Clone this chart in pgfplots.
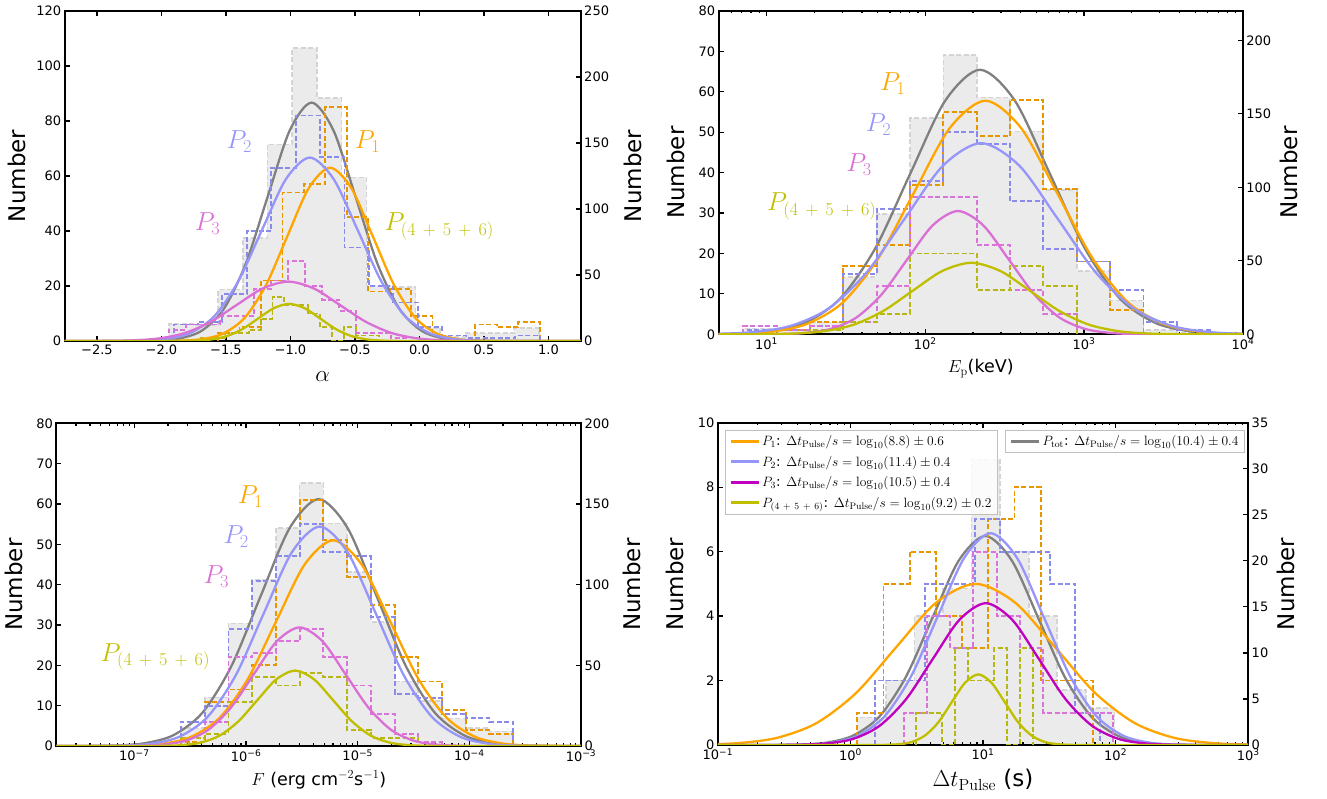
\RequirePackage{fix-cm}
\documentclass[border=0pt]{standalone}
\usepackage[no-math]{fontspec}
\setmainfont{DejaVu Sans}
\usepackage{pgfplots}
\pgfplotsset{compat=1.18}

\definecolor{cO}{RGB}{255,165,0}
\definecolor{cOh}{RGB}{232,150,0}
\definecolor{cB}{RGB}{150,150,250}
\definecolor{cBh}{RGB}{138,138,235}
\definecolor{cM}{RGB}{218,112,214}
\definecolor{cMh}{RGB}{220,115,220}
\definecolor{cMd}{RGB}{191,0,191}
\definecolor{cY}{RGB}{191,191,0}
\definecolor{cYh}{RGB}{182,182,20}
\definecolor{cG}{RGB}{128,128,128}
\definecolor{cGf}{RGB}{235,235,235}
\definecolor{cGe}{RGB}{212,212,212}
\newcommand{\pp}{\mskip7mu+\mskip7mu}
\tikzset{plab/.style={font=\fontsize{26}{30}\selectfont}}

\pgfplotsset{
  base/.style={scale only axis, anchor=south west,
    axis line style={line width=1.8pt},
    every tick/.append style={line width=1.2pt, black},
    major tick length=5pt, minor tick length=2.5pt,
    tick label style={font=\fontsize{13}{15}\selectfont},
    /pgf/number format/assume math mode=true},
  hist/.style={const plot, dash pattern=on 5pt off 2.5pt, line width=1.9pt, forget plot},
  grayhist/.style={const plot, fill=cGf, draw=cGe, dash pattern=on 5pt off 2.5pt, line width=1.6pt, forget plot},
  curve/.style={smooth, line width=2.3pt, mark=none},
  ylab/.style={every axis y label/.style={at={(axis description cs:#1,0.5)}, rotate=90, anchor=center, font=\fontsize{23}{27}\selectfont}},
  xlab/.style 2 args={every axis x label/.style={at={(axis description cs:0.5,#1)}, anchor=center, font=\fontsize{#2}{#2}\selectfont}},
  leg/.style={legend style={font=\fontsize{13.5}{16}\selectfont, draw=black!25, fill=white, fill opacity=0.8, text opacity=1,
    inner xsep=4pt, inner ysep=3pt, row sep=5pt},
    legend cell align=left,
    legend image code/.code={\draw[##1, line width=3pt] (0pt,0pt) -- (28pt,0pt);}},
}

\begin{document}
\begin{tikzpicture}
\path (0,0) rectangle (1327pt,799pt);

%================ Panel 1 : alpha ================
\begin{axis}[base, at={(64.7pt,458pt)}, width=516pt, height=330pt,
  xmin=-2.75, xmax=1.25, ymin=0, ymax=250, xtick=\empty,
  ytick={0,50,...,250}, ytick pos=right, yticklabel pos=right,
  ylabel={Number}, ylab=1.1014]
\addplot[grayhist] table[row sep=\\]{
-1.943 0\\ -1.943 13\\ -1.752 12\\ -1.560 39\\ -1.369 78\\ -1.178 149\\ -0.986 222\\ -0.795 184\\ -0.604 124\\ -0.412 42\\ -0.221 41\\ -0.030 10\\ 0.161 3\\ 0.353 6\\ 0.544 6\\ 0.735 10\\ 0.927 10\\ 0.927 0\\};
\addplot[curve, cG] table[row sep=\\]{
-2.75 0\\ -2.196 0.06\\ -2.026 0.39\\ -1.856 2.0\\ -1.686 7.9\\ -1.516 24.4\\ -1.346 58.6\\ -1.176 109.5\\ -1.006 159.4\\ -0.836 180.6\\ -0.666 159.4\\ -0.496 109.5\\ -0.326 58.6\\ -0.156 24.4\\ 0.014 7.9\\ 0.184 2.0\\ 0.354 0.39\\ 0.524 0.06\\ 1.25 0\\};
\end{axis}

\begin{axis}[base, at={(64.7pt,458pt)}, width=516pt, height=330pt,
  xmin=-2.75, xmax=1.25, ymin=0, ymax=120,
  ytick={0,20,...,120}, ytick pos=left,
  xtick={-2.5,-2,-1.5,-1,-0.5,0,0.5,1},
  xticklabels={−2.5,−2.0,−1.5,−1.0,−0.5,0.0,0.5,1.0},
  xlabel={$\alpha$}, xlab={-0.108}{23},
  ylabel={Number}, ylab=-0.0934]
\addplot[hist, cOh] table[row sep=\\]{
-1.561 0\\ -1.561 3\\ -1.395 5\\ -1.229 22\\ -1.062 54\\ -0.896 57\\ -0.730 85\\ -0.564 45\\ -0.398 18\\ -0.231 19\\ -0.065 9\\ 0.101 2\\ 0.267 0\\ 0.433 6\\ 0.600 5\\ 0.766 7\\ 0.932 7\\ 0.932 0\\};
\addplot[hist, cBh] table[row sep=\\]{
-1.906 0\\ -1.906 6\\ -1.717 7\\ -1.528 17\\ -1.338 40\\ -1.149 63\\ -0.960 82\\ -0.771 67\\ -0.581 34\\ -0.392 20\\ -0.203 14\\ -0.014 5\\ 0.176 2\\ 0.365 1\\ 0.554 1\\ 0.743 2\\ 0.933 2\\ 0.933 0\\};
\addplot[hist, cMh] table[row sep=\\]{
-1.943 0\\ -1.943 4\\ -1.811 6\\ -1.679 6\\ -1.546 9\\ -1.414 9\\ -1.282 19\\ -1.150 22\\ -1.018 29\\ -0.885 20\\ -0.753 15\\ -0.621 11\\ -0.489 3\\ -0.357 3\\ -0.224 1\\ -0.092 1\\ -0.092 0\\};
\addplot[hist, cYh] table[row sep=\\]{
-1.691 0\\ -1.691 1\\ -1.599 1\\ -1.507 3\\ -1.415 3\\ -1.323 4\\ -1.231 8\\ -1.139 16\\ -1.047 13\\ -0.955 13\\ -0.863 10\\ -0.771 5\\ -0.679 0\\ -0.587 5\\ -0.495 2\\ -0.403 2\\ -0.311 2\\ -0.311 0\\};
\addplot[curve, cO] table[row sep=\\]{
-2.75 0\\ -2.013 0.02\\ -1.848 0.14\\ -1.683 0.70\\ -1.518 2.77\\ -1.353 8.52\\ -1.188 20.46\\ -1.023 38.21\\ -0.858 55.6\\ -0.693 63\\ -0.528 55.6\\ -0.363 38.21\\ -0.198 20.46\\ -0.033 8.52\\ 0.132 2.77\\ 0.297 0.70\\ 0.462 0.14\\ 0.627 0.02\\ 1.25 0\\};
\addplot[curve, cB] table[row sep=\\]{
-2.75 0\\ -2.33 0.02\\ -2.145 0.15\\ -1.96 0.74\\ -1.775 2.93\\ -1.59 9.02\\ -1.405 21.66\\ -1.22 40.45\\ -1.035 58.86\\ -0.85 66.7\\ -0.665 58.86\\ -0.48 40.45\\ -0.295 21.66\\ -0.11 9.02\\ 0.075 2.93\\ 0.26 0.74\\ 0.445 0.15\\ 0.63 0.02\\ 1.25 0\\};
\addplot[curve, cM] table[row sep=\\]{
-2.75 0\\ -2.617 0.007\\ -2.417 0.05\\ -2.217 0.24\\ -2.017 0.95\\ -1.817 2.92\\ -1.617 7.01\\ -1.417 13.1\\ -1.217 19.06\\ -1.017 21.6\\ -0.817 19.06\\ -0.617 13.1\\ -0.417 7.01\\ -0.217 2.92\\ -0.017 0.95\\ 0.183 0.24\\ 0.383 0.05\\ 0.583 0.007\\ 1.25 0\\};
\addplot[curve, cY] table[row sep=\\]{
-2.75 0\\ -1.97 0.005\\ -1.85 0.03\\ -1.73 0.15\\ -1.61 0.59\\ -1.49 1.83\\ -1.37 4.38\\ -1.25 8.19\\ -1.13 11.91\\ -1.01 13.5\\ -0.89 11.91\\ -0.77 8.19\\ -0.65 4.38\\ -0.53 1.83\\ -0.41 0.59\\ -0.29 0.15\\ -0.17 0.03\\ -0.05 0.005\\ 1.25 0\\};
\node[plab, text=cO] at (axis cs:-0.402,72.5) {$P_1$};
\node[plab, text=cB] at (axis cs:-1.397,72.5) {$P_2$};
\node[plab, text=cM] at (axis cs:-1.643,42.8) {$P_3$};
\node[plab, text=cY] at (axis cs:0.153,41.6) {$P_{(4\pp5\pp6)}$};
\end{axis}

%================ Panel 2 : Ep ================
\begin{axis}[base, at={(718.6pt,464.7pt)}, width=524.3pt, height=323.3pt,
  xmode=log, xmin=5, xmax=1e4, ymin=0, ymax=220, xtick=\empty, xminorticks=false,
  ytick={0,50,...,200}, ytick pos=right, yticklabel pos=right,
  ylabel={Number}, ylab=1.087]
\addplot[grayhist] table[row sep=\\, y index=1, x expr=10^(\thisrowno{0})]{
0.854 0\\ 0.854 4\\ 1.064 3\\ 1.274 8\\ 1.484 39\\ 1.694 82\\ 1.904 147\\ 2.114 190\\ 2.324 161\\ 2.534 138\\ 2.744 98\\ 2.954 43\\ 3.164 23\\ 3.374 3\\ 3.584 1\\ 3.794 1\\ 3.794 0\\};
\addplot[curve, cG] table[row sep=\\, y index=1, x expr=10^(\thisrowno{0})]{
0.585 0.06\\ 0.805 0.39\\ 1.025 2.0\\ 1.245 7.91\\ 1.465 24.35\\ 1.685 58.45\\ 1.905 109.17\\ 2.125 158.85\\ 2.345 180\\ 2.565 158.85\\ 2.785 109.17\\ 3.005 58.45\\ 3.225 24.35\\ 3.445 7.91\\ 3.665 2.0\\ 3.885 0.39\\ 4.105 0.06\\};
\end{axis}

\begin{axis}[base, at={(718.6pt,464.7pt)}, width=524.3pt, height=323.3pt,
  xmode=log, xmin=5, xmax=1e4, ymin=0, ymax=80,
  ytick={0,10,...,80}, ytick pos=left,
  xtick={10,100,1000,10000},
  minor xtick={5,6,7,8,9,20,30,40,50,60,70,80,90,200,300,400,500,600,700,800,900,2000,3000,4000,5000,6000,7000,8000,9000},
  xticklabels={10\textsuperscript{1},10\textsuperscript{2},10\textsuperscript{3},10\textsuperscript{4}},
  xlabel={$E_{\mathrm{p}}$(keV)}, xlab={-0.105}{17.5},
  ylabel={Number}, ylab=-0.0814]
\addplot[hist, cOh] table[row sep=\\, y index=1, x expr=10^(\thisrowno{0})]{
1.064 0\\ 1.064 1\\ 1.274 3\\ 1.484 17\\ 1.694 22\\ 1.904 37\\ 2.114 55\\ 2.324 49\\ 2.534 58\\ 2.744 36\\ 2.954 18\\ 3.164 6\\ 3.374 6\\ 3.374 0\\};
\addplot[hist, cBh] table[row sep=\\, y index=1, x expr=10^(\thisrowno{0})]{
0.854 0\\ 0.854 1\\ 1.064 1\\ 1.274 2\\ 1.484 15\\ 1.694 31\\ 1.904 38\\ 2.114 50\\ 2.324 47\\ 2.534 33\\ 2.744 21\\ 2.954 18\\ 3.164 11\\ 3.374 3\\ 3.584 1\\ 3.794 1\\ 3.794 0\\};
\addplot[hist, cMh] table[row sep=\\, y index=1, x expr=10^(\thisrowno{0})]{
0.854 0\\ 0.854 2\\ 1.064 1\\ 1.274 2\\ 1.484 3\\ 1.694 12\\ 1.904 34\\ 2.114 34\\ 2.324 22\\ 2.534 11\\ 2.744 5\\ 2.954 5\\ 2.954 0\\};
\addplot[hist, cYh] table[row sep=\\, y index=1, x expr=10^(\thisrowno{0})]{
1.274 0\\ 1.274 1\\ 1.484 3\\ 1.694 5\\ 1.904 20\\ 2.114 20\\ 2.324 11\\ 2.534 17\\ 2.744 12\\ 2.954 12\\ 2.954 0\\};
\addplot[curve, cO] table[row sep=\\, y index=1, x expr=10^(\thisrowno{0})]{
0.579 0.02\\ 0.804 0.13\\ 1.029 0.64\\ 1.254 2.54\\ 1.479 7.82\\ 1.704 18.77\\ 1.929 35.06\\ 2.154 51.01\\ 2.379 57.8\\ 2.604 51.01\\ 2.829 35.06\\ 3.054 18.77\\ 3.279 7.82\\ 3.504 2.54\\ 3.729 0.64\\ 3.954 0.13\\ 4.179 0.02\\};
\addplot[curve, cB] table[row sep=\\, y index=1, x expr=10^(\thisrowno{0})]{
0.432 0.016\\ 0.672 0.10\\ 0.912 0.53\\ 1.152 2.08\\ 1.392 6.40\\ 1.632 15.36\\ 1.872 28.69\\ 2.112 41.74\\ 2.352 47.3\\ 2.592 41.74\\ 2.832 28.69\\ 3.072 15.36\\ 3.312 6.40\\ 3.552 2.08\\ 3.792 0.53\\ 4.032 0.10\\};
\addplot[curve, cM] table[row sep=\\, y index=1, x expr=10^(\thisrowno{0})]{
0.6 0\\ 0.926 0.01\\ 1.086 0.07\\ 1.246 0.34\\ 1.406 1.34\\ 1.566 4.13\\ 1.726 9.90\\ 1.886 18.50\\ 2.046 26.92\\ 2.206 30.5\\ 2.366 26.92\\ 2.526 18.50\\ 2.686 9.90\\ 2.846 4.13\\ 3.006 1.34\\ 3.166 0.34\\ 3.326 0.07\\ 3.486 0.01\\ 4.1 0\\};
\addplot[curve, cY] table[row sep=\\, y index=1, x expr=10^(\thisrowno{0})]{
0.6 0\\ 0.81 0.006\\ 0.995 0.04\\ 1.18 0.20\\ 1.365 0.78\\ 1.55 2.39\\ 1.735 5.75\\ 1.92 10.74\\ 2.105 15.62\\ 2.29 17.7\\ 2.475 15.62\\ 2.66 10.74\\ 2.845 5.75\\ 3.03 2.39\\ 3.215 0.78\\ 3.4 0.20\\ 3.585 0.04\\ 3.77 0.006\\ 4.1 0\\};
\node[plab, text=cO] at (axis cs:62.5,62.1) {$P_1$};
\node[plab, text=cB] at (axis cs:50.8,51.8) {$P_2$};
\node[plab, text=cM] at (axis cs:38.3,41.9) {$P_3$};
\node[plab, text=cY] at (axis cs:22.3,31.6) {$P_{(4\pp5\pp6)}$};
\end{axis}

%================ Panel 3 : F ================
\begin{axis}[base, at={(56.4pt,53pt)}, width=524.6pt, height=322.7pt,
  xmode=log, xmin=2e-8, xmax=1e-3, ymin=0, ymax=200, xtick=\empty, xminorticks=false,
  ytick={0,50,...,200}, ytick pos=right, yticklabel pos=right,
  ylabel={Number}, ylab=1.0976]
\addplot[grayhist] table[row sep=\\, y index=1, x expr=10^(\thisrowno{0})]{
-6.582 0\\ -6.582 11\\ -6.370 30\\ -6.157 76\\ -5.945 103\\ -5.732 135\\ -5.520 163\\ -5.308 138\\ -5.095 108\\ -4.883 77\\ -4.670 40\\ -4.458 28\\ -4.246 17\\ -4.033 11\\ -3.821 9\\ -3.608 9\\ -3.608 0\\};
\addplot[curve, cG] table[row sep=\\, y index=1, x expr=10^(\thisrowno{0})]{
-7.8 0\\ -7.43 0.05\\ -7.17 0.33\\ -6.91 1.70\\ -6.65 6.72\\ -6.39 20.7\\ -6.13 49.7\\ -5.87 92.8\\ -5.61 135.0\\ -5.35 153\\ -5.09 135.0\\ -4.83 92.8\\ -4.57 49.7\\ -4.31 20.7\\ -4.05 6.72\\ -3.79 1.70\\ -3.53 0.33\\ -3.27 0.05\\ -2.9 0\\};
\end{axis}

\begin{axis}[base, at={(56.4pt,53pt)}, width=524.6pt, height=322.7pt,
  xmode=log, xmin=2e-8, xmax=1e-3, ymin=0, ymax=80,
  ytick={0,10,...,80}, ytick pos=left,
  xtick={1e-7,1e-6,1e-5,1e-4,1e-3},
  minor xtick={2e-8,3e-8,4e-8,5e-8,6e-8,7e-8,8e-8,9e-8,2e-7,3e-7,4e-7,5e-7,6e-7,7e-7,8e-7,9e-7,2e-6,3e-6,4e-6,5e-6,6e-6,7e-6,8e-6,9e-6,2e-5,3e-5,4e-5,5e-5,6e-5,7e-5,8e-5,9e-5,2e-4,3e-4,4e-4,5e-4,6e-4,7e-4,8e-4,9e-4},
  xticklabels={10\textsuperscript{−7},10\textsuperscript{−6},10\textsuperscript{−5},10\textsuperscript{−4},10\textsuperscript{−3}},
  xlabel={$F$ (erg cm$^{-2}$s$^{-1}$)}, xlab={-0.105}{17.5},
  ylabel={Number}, ylab=-0.0814]
\addplot[hist, cOh] table[row sep=\\, y index=1, x expr=10^(\thisrowno{0})]{
-6.582 0\\ -6.582 1\\ -6.370 11\\ -6.157 14\\ -5.945 20\\ -5.732 47\\ -5.520 61\\ -5.308 51\\ -5.095 42\\ -4.883 35\\ -4.670 22\\ -4.458 16\\ -4.246 9\\ -4.033 4\\ -3.821 3\\ -3.608 3\\ -3.608 0\\};
\addplot[hist, cBh] table[row sep=\\, y index=1, x expr=10^(\thisrowno{0})]{
-6.582 0\\ -6.582 6\\ -6.370 10\\ -6.157 29\\ -5.945 41\\ -5.732 47\\ -5.520 55\\ -5.308 48\\ -5.095 47\\ -4.883 32\\ -4.670 13\\ -4.458 12\\ -4.246 8\\ -4.033 7\\ -3.821 6\\ -3.608 6\\ -3.608 0\\};
\addplot[hist, cMh] table[row sep=\\, y index=1, x expr=10^(\thisrowno{0})]{
-6.582 0\\ -6.582 2\\ -6.370 6\\ -6.157 22\\ -5.945 23\\ -5.732 26\\ -5.520 29\\ -5.308 22\\ -5.095 15\\ -4.883 8\\ -4.670 3\\ -4.458 1\\ -4.246 1\\ -4.246 0\\};
\addplot[hist, cYh] table[row sep=\\, y index=1, x expr=10^(\thisrowno{0})]{
-6.582 0\\ -6.582 2\\ -6.370 3\\ -6.157 11\\ -5.945 17\\ -5.732 15\\ -5.520 18\\ -5.308 17\\ -5.095 4\\ -4.883 2\\ -4.670 2\\ -4.458 2\\ -4.458 0\\};
\addplot[curve, cO] table[row sep=\\, y index=1, x expr=10^(\thisrowno{0})]{
-7.8 0\\ -7.26 0.017\\ -7.005 0.11\\ -6.75 0.57\\ -6.495 2.24\\ -6.24 6.90\\ -5.985 16.56\\ -5.73 30.93\\ -5.475 45.01\\ -5.22 51\\ -4.965 45.01\\ -4.71 30.93\\ -4.455 16.56\\ -4.2 6.90\\ -3.945 2.24\\ -3.69 0.57\\ -3.435 0.11\\ -3.18 0.017\\ -2.9 0\\};
\addplot[curve, cB] table[row sep=\\, y index=1, x expr=10^(\thisrowno{0})]{
-7.8 0\\ -7.34 0.018\\ -7.09 0.12\\ -6.84 0.60\\ -6.59 2.39\\ -6.34 7.36\\ -6.09 17.66\\ -5.84 32.99\\ -5.59 48.01\\ -5.34 54.4\\ -5.09 48.01\\ -4.84 32.99\\ -4.59 17.66\\ -4.34 7.36\\ -4.09 2.39\\ -3.84 0.60\\ -3.59 0.12\\ -3.34 0.018\\ -2.9 0\\};
\addplot[curve, cM] table[row sep=\\, y index=1, x expr=10^(\thisrowno{0})]{
-7.8 0\\ -7.16 0.01\\ -6.955 0.06\\ -6.75 0.33\\ -6.545 1.29\\ -6.34 3.98\\ -6.135 9.55\\ -5.93 17.83\\ -5.725 25.95\\ -5.52 29.4\\ -5.315 25.95\\ -5.11 17.83\\ -4.905 9.55\\ -4.7 3.98\\ -4.495 1.29\\ -4.29 0.33\\ -4.085 0.06\\ -3.88 0.01\\ -2.9 0\\};
\addplot[curve, cY] table[row sep=\\, y index=1, x expr=10^(\thisrowno{0})]{
-7.8 0\\ -6.92 0.006\\ -6.75 0.04\\ -6.58 0.21\\ -6.41 0.82\\ -6.24 2.53\\ -6.07 6.07\\ -5.9 11.34\\ -5.73 16.50\\ -5.56 18.7\\ -5.39 16.50\\ -5.22 11.34\\ -5.05 6.07\\ -4.88 2.53\\ -4.71 0.82\\ -4.54 0.21\\ -4.37 0.04\\ -4.2 0.006\\ -2.9 0\\};
\node[plab, text=cO] at (axis cs:1.094e-6,61.8) {$P_1$};
\node[plab, text=cB] at (axis cs:8.15e-7,51.9) {$P_2$};
\node[plab, text=cM] at (axis cs:5.42e-7,42) {$P_3$};
\node[plab, text=cY] at (axis cs:1.54e-7,22.1) {$P_{(4\pp5\pp6)}$};
\end{axis}

%================ Panel 4 : Delta t ================
\begin{axis}[base, leg, at={(717.9pt,54pt)}, width=530.3pt, height=322.3pt,
  xmode=log, xmin=0.1, xmax=1000, ymin=0, ymax=35, xtick=\empty, xminorticks=false,
  ytick={0,5,...,35}, ytick pos=right, yticklabel pos=right,
  ylabel={Number}, ylab=1.071,
  legend style={at={(axis description cs:0.9934,0.977)}, anchor=north east}]
\addplot[grayhist] table[row sep=\\, y index=1, x expr=10^(\thisrowno{0})]{
0.051 0\\ 0.051 3\\ 0.267 7\\ 0.482 14\\ 0.698 17\\ 0.913 31\\ 1.129 21\\ 1.345 14\\ 1.560 6\\ 1.776 4\\ 1.991 4\\ 1.991 0\\};
\addplot[curve, cG] table[row sep=\\, y index=1, x expr=10^(\thisrowno{0})]{
-1.1 0\\ -0.583 0.0076\\ -0.383 0.050\\ -0.183 0.25\\ 0.017 1.0\\ 0.217 3.07\\ 0.417 7.37\\ 0.617 13.77\\ 0.817 20.03\\ 1.017 22.7\\ 1.217 20.03\\ 1.417 13.77\\ 1.617 7.37\\ 1.817 3.07\\ 2.017 1.0\\ 2.217 0.25\\ 2.417 0.050\\ 2.617 0.0076\\ 3.1 0\\};
\addlegendentry{$P_{\mathrm{tot}}$: $\Delta t_{\mathrm{Pulse}}/s=\log_{10}(10.4)\pm0.4$}
\end{axis}

\begin{axis}[base, leg, at={(717.9pt,54pt)}, width=530.3pt, height=322.3pt,
  xmode=log, xmin=0.1, xmax=1000, ymin=0, ymax=10,
  ytick={0,2,...,10}, ytick pos=left,
  xtick={0.1,1,10,100,1000},
  minor xtick={0.2,0.3,0.4,0.5,0.6,0.7,0.8,0.9,2,3,4,5,6,7,8,9,20,30,40,50,60,70,80,90,200,300,400,500,600,700,800,900},
  xticklabels={10\textsuperscript{−1},10\textsuperscript{0},10\textsuperscript{1},10\textsuperscript{2},10\textsuperscript{3}},
  xlabel={$\Delta t_{\mathrm{Pulse}}$ (s)}, xlab={-0.1086}{23},
  ylabel={Number}, ylab=-0.0805,
  legend style={at={(axis description cs:0.0134,0.977)}, anchor=north west}]
\addplot[hist, cOh] table[row sep=\\, y index=1, x expr=10^(\thisrowno{0})]{
0.051 0\\ 0.051 1\\ 0.249 5\\ 0.446 6\\ 0.644 4\\ 0.842 3\\ 1.040 7\\ 1.237 8\\ 1.435 2\\ 1.633 2\\ 1.830 2\\ 1.830 0\\};
\addplot[hist, cBh] table[row sep=\\, y index=1, x expr=10^(\thisrowno{0})]{
0.186 0\\ 0.186 2\\ 0.375 2\\ 0.563 5\\ 0.752 5\\ 0.940 7\\ 1.129 6\\ 1.318 6\\ 1.506 5\\ 1.695 1\\ 1.884 1\\ 1.884 0\\};
\addplot[hist, cMh] table[row sep=\\, y index=1, x expr=10^(\thisrowno{0})]{
0.402 0\\ 0.402 1\\ 0.577 4\\ 0.752 3\\ 0.927 6\\ 1.103 4\\ 1.278 3\\ 1.453 1\\ 1.628 1\\ 1.803 1\\ 1.979 1\\ 1.979 0\\};
\addplot[hist, cYh] table[row sep=\\, y index=1, x expr=10^(\thisrowno{0})]{
0.4925 0\\ 0.4925 1\\ 0.591 1\\ 0.6895 0\\ 0.788 3\\ 0.8865 2\\ 0.985 2\\ 1.0835 3\\ 1.182 0\\ 1.2805 3\\ 1.379 3\\ 1.379 0\\};
\addplot[curve, cO] table[row sep=\\, y index=1, x expr=10^(\thisrowno{0})]{
-1.156 0.011\\ -0.856 0.056\\ -0.556 0.22\\ -0.256 0.68\\ 0.044 1.62\\ 0.344 3.03\\ 0.644 4.41\\ 0.944 5.0\\ 1.244 4.41\\ 1.544 3.03\\ 1.844 1.62\\ 2.144 0.68\\ 2.444 0.22\\ 2.744 0.056\\ 3.044 0.011\\};
\addlegendentry{$P_1$: $\Delta t_{\mathrm{Pulse}}/s=\log_{10}(8.8)\pm0.6$}
\addplot[curve, cB] table[row sep=\\, y index=1, x expr=10^(\thisrowno{0})]{
-1.1 0\\ -0.543 0.002\\ -0.343 0.014\\ -0.143 0.073\\ 0.057 0.29\\ 0.257 0.89\\ 0.457 2.13\\ 0.657 3.98\\ 0.857 5.80\\ 1.057 6.57\\ 1.257 5.80\\ 1.457 3.98\\ 1.657 2.13\\ 1.857 0.89\\ 2.057 0.29\\ 2.257 0.073\\ 2.457 0.014\\ 2.657 0.002\\ 3.1 0\\};
\addlegendentry{$P_2$: $\Delta t_{\mathrm{Pulse}}/s=\log_{10}(11.4)\pm0.4$}
\addplot[curve, cMd] table[row sep=\\, y index=1, x expr=10^(\thisrowno{0})]{
-1.1 0\\ -0.579 0.0015\\ -0.379 0.0096\\ -0.179 0.049\\ 0.021 0.19\\ 0.221 0.60\\ 0.421 1.43\\ 0.621 2.67\\ 0.821 3.88\\ 1.021 4.4\\ 1.221 3.88\\ 1.421 2.67\\ 1.621 1.43\\ 1.821 0.60\\ 2.021 0.19\\ 2.221 0.049\\ 2.421 0.0096\\ 2.621 0.0015\\ 3.1 0\\};
\addlegendentry{$P_3$: $\Delta t_{\mathrm{Pulse}}/s=\log_{10}(10.5)\pm0.4$}
\addplot[curve, cY] table[row sep=\\, y index=1, x expr=10^(\thisrowno{0})]{
-1.1 0\\ 0.164 0.0007\\ 0.264 0.0048\\ 0.364 0.024\\ 0.464 0.096\\ 0.564 0.30\\ 0.664 0.71\\ 0.764 1.33\\ 0.864 1.93\\ 0.964 2.19\\ 1.064 1.93\\ 1.164 1.33\\ 1.264 0.71\\ 1.364 0.30\\ 1.464 0.096\\ 1.564 0.024\\ 1.664 0.0048\\ 1.764 0.0007\\ 3.1 0\\};
\addlegendentry{$P_{(4\pp5\pp6)}$: $\Delta t_{\mathrm{Pulse}}/s=\log_{10}(9.2)\pm0.2$}
\end{axis}
\end{tikzpicture}
\end{document}
